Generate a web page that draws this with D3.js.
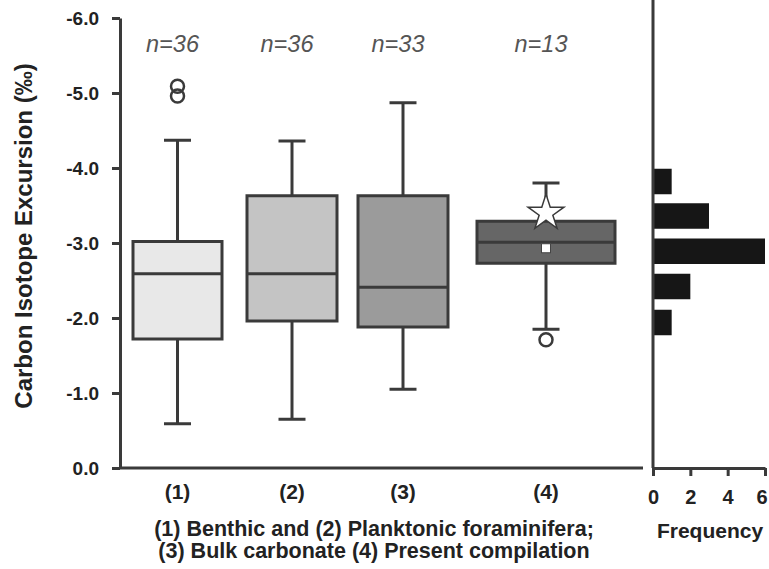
<!DOCTYPE html>
<html>
<head>
<meta charset="utf-8">
<script src="https://cdn.jsdelivr.net/npm/d3@7"></script>
<style>
  body { margin: 0; background: #fff; }
  svg { font-family: "Liberation Sans", Arial, sans-serif; }
</style>
</head>
<body>
<svg id="chart" width="769" height="569"></svg>
<script>
// Box plot data (values in per mil, negative excursion)
const categories = ['(1)', '(2)', '(3)', '(4)'];
const nLabels = ['n=36', 'n=36', 'n=33', 'n=13'];
const whiskerHigh = [-4.37, -4.36, -4.87, -3.80];
const q3 = [-3.02, -3.63, -3.63, -3.29];
const medians = [-2.59, -2.59, -2.41, -3.01];
const q1 = [-1.72, -1.96, -1.88, -2.73];
const whiskerLow = [-0.59, -0.65, -1.05, -1.85];
const boxFills = ['#e8e8e8', '#c4c4c4', '#9b9b9b', '#666666'];
// Outliers: [category index, value]
const outliers = [[0, -5.09], [0, -4.96], [3, -1.71]];
// Present compilation: mean and highlighted value
const meanValue = -2.93;
const starValue = -3.40;

// Histogram of present compilation
const binCenters = [-3.82, -3.36, -2.89, -2.42, -1.94];
const binCounts = [1, 3, 6, 2, 1];
const binHalfWidth = 0.17;

const yTicks = [0, -1, -2, -3, -4, -5, -6];
const freqTicks = [0, 2, 4, 6];

const svg = d3.select('#chart');
const ink = '#3a3a3a';
const fontFam = '"Liberation Sans", Arial, sans-serif';
const fmt = d3.formatLocale({ decimal: '.', thousands: ',', grouping: [3], currency: ['', ''], minus: '-' }).format('.1f');

// Scales
const yScale = d3.scaleLinear().domain([0, -6]).range([468, 18]);
const xCenter = d3.scaleOrdinal().domain(categories).range([177.5, 292, 403, 546]);
const boxWidth = d3.scaleOrdinal().domain(categories).range([89, 90, 90, 138]);
const freqScale = d3.scaleLinear().domain([0, 6]).range([653, 765]);

// Y axis
const yAxis = svg.append('g')
    .attr('transform', 'translate(120,0)')
    .call(d3.axisLeft(yScale).tickValues(yTicks).tickFormat(fmt).tickSize(8).tickSizeOuter(0).tickPadding(13));
yAxis.select('.domain').attr('stroke', ink).attr('stroke-width', 3);
yAxis.selectAll('.tick line').attr('stroke', ink).attr('stroke-width', 3);
yAxis.selectAll('.tick text')
    .attr('font-size', 19).attr('font-weight', 'bold').attr('fill', '#222')
    .attr('font-family', fontFam);

// Main x axis line
svg.append('line')
    .attr('x1', 120).attr('x2', 643)
    .attr('y1', yScale(0)).attr('y2', yScale(0))
    .attr('stroke', ink).attr('stroke-width', 3);

// Y axis title
svg.append('text')
    .attr('transform', 'translate(32,236) rotate(-90)')
    .attr('text-anchor', 'middle')
    .attr('font-size', 24).attr('font-weight', 'bold').attr('fill', '#222')
    .text('Carbon Isotope Excursion (‰)');

// Boxes
const boxes = svg.append('g');
categories.forEach((c, i) => {
    const cx = xCenter(c);
    const w = boxWidth(c);
    const g = boxes.append('g');
    // whiskers
    g.append('line').attr('x1', cx).attr('x2', cx)
        .attr('y1', yScale(whiskerHigh[i])).attr('y2', yScale(q3[i]))
        .attr('stroke', ink).attr('stroke-width', 3);
    g.append('line').attr('x1', cx).attr('x2', cx)
        .attr('y1', yScale(q1[i])).attr('y2', yScale(whiskerLow[i]))
        .attr('stroke', ink).attr('stroke-width', 3);
    [whiskerHigh[i], whiskerLow[i]].forEach(v => {
        g.append('line').attr('x1', cx - 13.5).attr('x2', cx + 13.5)
            .attr('y1', yScale(v)).attr('y2', yScale(v))
            .attr('stroke', ink).attr('stroke-width', 3);
    });
    // box
    g.append('rect')
        .attr('x', cx - w / 2).attr('width', w)
        .attr('y', yScale(q3[i])).attr('height', yScale(q1[i]) - yScale(q3[i]))
        .attr('fill', boxFills[i]).attr('stroke', ink).attr('stroke-width', 3);
    // median
    g.append('line').attr('x1', cx - w / 2).attr('x2', cx + w / 2)
        .attr('y1', yScale(medians[i])).attr('y2', yScale(medians[i]))
        .attr('stroke', ink).attr('stroke-width', 3);
    // n label
    svg.append('text')
        .attr('x', cx - 5).attr('y', 52)
        .attr('text-anchor', 'middle')
        .attr('font-size', 23.5).attr('font-style', 'italic').attr('fill', '#555')
        .text(nLabels[i]);
    // category label
    svg.append('text')
        .attr('x', cx).attr('y', 499)
        .attr('text-anchor', 'middle')
        .attr('font-size', 21).attr('font-weight', 'bold').attr('fill', '#222')
        .text(c);
});

// Outliers
svg.append('g').selectAll('circle')
    .data(outliers)
    .join('circle')
    .attr('cx', d => xCenter(categories[d[0]]))
    .attr('cy', d => yScale(d[1]))
    .attr('r', 6.5)
    .attr('fill', 'none').attr('stroke', ink).attr('stroke-width', 2.5);

// Mean square and star for present compilation
const c4 = xCenter(categories[3]);
svg.append('rect')
    .attr('x', c4 - 4.5).attr('y', yScale(meanValue) - 4.5)
    .attr('width', 9).attr('height', 9)
    .attr('fill', '#fff').attr('stroke', '#444').attr('stroke-width', 1);
svg.append('path')
    .attr('d', d3.symbol(d3.symbolStar, 400)())
    .attr('transform', `translate(${c4},${yScale(starValue)})`)
    .attr('fill', '#fff').attr('stroke', ink).attr('stroke-width', 1.5);

// Histogram
svg.append('g').selectAll('rect')
    .data(binCenters)
    .join('rect')
    .attr('x', freqScale(0))
    .attr('y', d => yScale(d - binHalfWidth))
    .attr('width', (d, i) => freqScale(binCounts[i]) - freqScale(0))
    .attr('height', d => yScale(d + binHalfWidth) - yScale(d - binHalfWidth))
    .attr('fill', '#161616');

// Histogram axes
svg.append('line')
    .attr('x1', freqScale(0)).attr('x2', freqScale(0))
    .attr('y1', 0).attr('y2', yScale(0))
    .attr('stroke', ink).attr('stroke-width', 3);
const fAxis = svg.append('g')
    .attr('transform', `translate(0,${yScale(0)})`)
    .call(d3.axisBottom(freqScale).tickValues(freqTicks).tickFormat(d3.format('d')).tickSize(8).tickSizeOuter(0).tickPadding(14));
fAxis.select('.domain').attr('stroke', ink).attr('stroke-width', 3);
fAxis.selectAll('.tick line').attr('stroke', ink).attr('stroke-width', 3);
fAxis.selectAll('.tick text')
    .attr('font-size', 20).attr('font-weight', 'bold').attr('fill', '#222')
    .attr('font-family', fontFam);
// keep the last tick label inside the picture
fAxis.selectAll('.tick text').filter(d => d === 6).attr('text-anchor', 'end').attr('dx', 2);

svg.append('text')
    .attr('x', (freqScale(0) + freqScale(6)) / 2 + 1).attr('y', 538)
    .attr('text-anchor', 'middle')
    .attr('font-size', 21).attr('font-weight', 'bold').attr('fill', '#222')
    .text('Frequency');

// Caption under main plot
const caption = svg.append('text')
    .attr('text-anchor', 'middle')
    .attr('font-size', 21.5).attr('font-weight', 'bold').attr('fill', '#222');
caption.append('tspan').attr('x', 374).attr('y', 536).text('(1) Benthic and (2) Planktonic foraminifera;');
caption.append('tspan').attr('x', 374).attr('y', 558).text('(3) Bulk carbonate (4) Present compilation');
</script>
</body>
</html>
